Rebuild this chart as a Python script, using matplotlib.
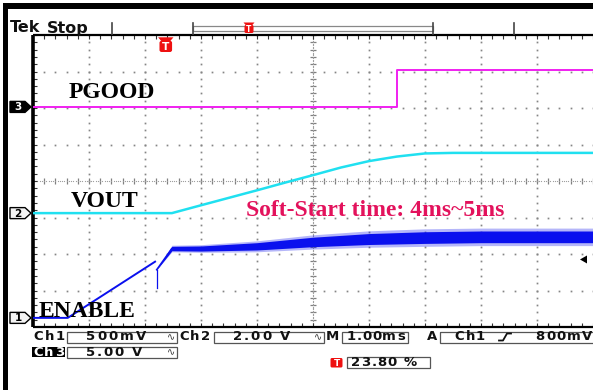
import numpy as np
import matplotlib
matplotlib.use("Agg")
import matplotlib.pyplot as plt
from matplotlib.patches import Polygon, Rectangle, FancyBboxPatch

# ---------------- data ----------------
# time in ms, voltages in V
enable_t = [0.0, 0.62, 2.18]
enable_v = [0.0, 0.0, 0.77]
enable_dip_t = [2.21, 2.21]
enable_dip_v = [0.66, 0.41]
enable_t2 = [2.21, 2.48, 3.0, 4.0, 5.0, 6.0, 7.0, 8.0, 9.0, 10.0]
enable_v2 = [0.66, 0.95, 0.95, 0.98, 1.04, 1.08, 1.10, 1.11, 1.11, 1.11]
enable_noise = [0.0, 0.03, 0.035, 0.05, 0.065, 0.075, 0.08, 0.08, 0.08, 0.08]

vout_t = [0.0, 2.48, 3.0, 3.5, 4.0, 4.5, 5.0, 5.5, 6.0, 6.5, 7.0, 7.5, 8.0, 10.0]
vout_v = [0.0, 0.0, 0.43, 0.84, 1.25, 1.67, 2.08, 2.50, 2.85, 3.10, 3.27, 3.30, 3.30, 3.30]

pgood_t = [0.0, 6.5, 6.5, 10.0]
pgood_v = [0.0, 0.0, 5.05, 5.05]

# channel settings: volts/div and ground position (divisions from bottom)
ch_scale = {1: 0.5, 2: 2.0, 3: 5.0}
ch_ground = {1: 0.25, 2: 3.12, 3: 6.03}
time_per_div = 1.0  # ms

status_ch1 = "500mV"
status_ch2 = "2.00 V"
status_ch3 = "5.00 V"
status_time = "1.00ms"
status_trig = "800mV"
status_pos = "23.80 %"
trig_pos_ms = 2.38

labels = ["PGOOD", "VOUT", "ENABLE"]
note = "Soft-Start time: 4ms~5ms"

# ---------------- figure ----------------
W, H = 593, 390
fig = plt.figure(figsize=(W / 100, H / 100), dpi=100)
fig.patch.set_facecolor("white")

L, T, R, B = 33, 35, 593, 327
ax = fig.add_axes([L / W, (H - B) / H, (R - L) / W, (B - T) / H])
ax.set_xlim(0, 10)
ax.set_ylim(0, 8)
ax.axis("off")

def to_div(v, ch):
    return ch_ground[ch] + np.asarray(v) / ch_scale[ch]

def to_x(t):
    return np.asarray(t) / time_per_div

# graticule dots
yf = np.arange(0, 8.001, 0.2)
xf = np.arange(0, 10.001, 0.2)
gcol = "#858585"
for gx in range(1, 10):
    if gx == 5:
        continue
    ax.plot([gx] * len(yf), yf, ls="none", marker="s", ms=1.25, color=gcol, mew=0)
for gy in range(1, 8):
    if gy == 4:
        continue
    ax.plot(xf, [gy] * len(xf), ls="none", marker="s", ms=1.25, color=gcol, mew=0)
# center lines with ticks
ax.plot([5] * len(yf), yf, ls="none", marker="_", ms=4, mew=0.9, color="#808080")
ax.plot(xf, [4] * len(xf), ls="none", marker="|", ms=4, mew=0.9, color="#808080")
yff = np.arange(0, 8.001, 0.04)
xff = np.arange(0, 10.001, 0.04)
ax.plot([5] * len(yff), yff, ls="none", marker="s", ms=0.8, color="#a0a0a0", mew=0)
ax.plot(xff, [4] * len(xff), ls="none", marker="s", ms=0.8, color="#a0a0a0", mew=0)
# edge ticks
ax.vlines(xf, 8 - 0.1, 8, color="#333", lw=0.8)
ax.vlines(xf, 0, 0.1, color="#333", lw=0.8)
ax.hlines(yf, 0, 0.07, color="#333", lw=0.8)
# frame
ax.plot([0, 0], [0, 8], color="black", lw=2.6, clip_on=False, solid_capstyle="butt")
ax.plot([0, 10], [8, 8], color="black", lw=1.6, clip_on=False, solid_capstyle="butt")
ax.plot([0, 10], [0, 0], color="black", lw=1.6, clip_on=False, solid_capstyle="butt")

# traces
mag = "#F020F0"
cya = "#20E0F0"
blu = "#0A10EE"
ax.plot(to_x(pgood_t), to_div(pgood_v, 3), color=mag, lw=1.4, zorder=4)
ax.plot(to_x(vout_t), to_div(vout_v, 2), color=cya, lw=1.8, zorder=4)
ax.plot(to_x(enable_t), to_div(enable_v, 1), color=blu, lw=1.4, zorder=4)
ax.plot(to_x(enable_dip_t), to_div(enable_dip_v, 1), color=blu, lw=0.9, zorder=4)
ev2 = np.array(enable_v2)
en = np.array(enable_noise)
ax.fill_between(to_x(enable_t2), to_div(ev2 - 1.5 * en, 1), to_div(ev2 + 1.5 * en, 1),
                color=blu, alpha=0.3, lw=0, zorder=4)
ax.fill_between(to_x(enable_t2), to_div(ev2 - en, 1), to_div(ev2 + en, 1),
                color=blu, lw=0, zorder=4)
ax.plot(to_x(enable_t2), to_div(ev2, 1), color=blu, lw=1.2, zorder=4)

# ---------------- overlay in pixel coordinates ----------------
ov = fig.add_axes([0, 0, 1, 1], zorder=5)
ov.set_xlim(0, W)
ov.set_ylim(H, 0)
ov.axis("off")

def py(div):
    return B - div * (B - T) / 8.0

def px(ms):
    return L + ms / time_per_div * (R - L) / 10.0

# black L-shaped border
ov.add_patch(Rectangle((2.5, 3), W, 6, color="black", lw=0))
ov.add_patch(Rectangle((2.5, 3), 5.5, H, color="black", lw=0))

# Tek Stop
ov.text(10, 32.5, "Tek", fontsize=11.5, fontweight="bold", family="DejaVu Sans", va="baseline", color="#111")
ov.text(47, 32.5, "Stop", fontsize=11.5, family="DejaVu Sans", va="baseline", color="#111", fontweight="semibold")

# record bar
for xx in (112, 193, 433, 514):
    ov.plot([xx, xx], [23, 34], color="#444", lw=1.2)
ov.add_patch(Rectangle((193, 26), 240, 4.5, facecolor="white", edgecolor="#888", lw=0.9))

def trig_marker(cx, cy, s):
    ov.add_patch(Polygon([(cx - s * 0.55, cy - s * 0.55), (cx + s * 0.55, cy - s * 0.55),
                          (cx + s * 0.25, cy - s * 0.2), (cx - s * 0.25, cy - s * 0.2)],
                         closed=True, color="#EE1111", lw=0))
    ov.add_patch(FancyBboxPatch((cx - s * 0.45, cy - s * 0.3), s * 0.9, s * 0.8,
                                boxstyle="round,pad=0,rounding_size=%g" % (s * 0.15),
                                color="#EE1111", lw=0))
    ov.text(cx, cy + s * 0.12, "T", color="white", fontsize=s * 0.55, fontweight="bold",
            ha="center", va="center", family="DejaVu Sans")

trig_marker(249, 28, 10)
trig_marker(px(trig_pos_ms) - 0.5, 45, 14)

# channel markers
def ch_marker(ch, filled):
    c = py(ch_ground[ch])
    pts = [(10, c - 5.5), (25, c - 5.5), (31, c), (25, c + 5.5), (10, c + 5.5)]
    ov.add_patch(Polygon(pts, closed=True, facecolor="black" if filled else "#f4f4f4",
                         edgecolor="black", lw=1.0))
    ov.text(18, c + 0.5, str(ch), color="white" if filled else "black", fontsize=7.5,
            fontweight="bold", ha="center", va="center", family="DejaVu Sans")

ch_marker(3, True)
ch_marker(2, False)
ch_marker(1, False)

# trigger level arrow
tl = py(ch_ground[1] + 0.8 / ch_scale[1])
ov.add_patch(Polygon([(580, tl), (587, tl - 4), (587, tl + 4)], closed=True, color="black", lw=0))

# labels
sfont = dict(family="Liberation Serif", fontweight="bold", fontsize=17, va="baseline")
ov.text(69, 98, labels[0], color="black", **sfont)
ov.text(71, 207, labels[1], color="black", **sfont)
ov.text(39, 317, labels[2], color="black", **sfont)
ov.text(246, 216, note, color="#E3125C", **sfont)

# status area: characters spread over a span, Tek-style wide lettering
cw = {"m": 1.45, ".": 0.6, " ": 0.6, "V": 1.1, "C": 1.1, "1": 0.9, "%": 1.2, "M": 1.2}

def chars(s, x0, x1, y, color="#111", size=9.5):
    ws = [cw.get(c, 1.0) for c in s]
    tot = sum(ws)
    acc = 0.0
    for c, w in zip(s, ws):
        xc = x0 + (acc + w / 2) / tot * (x1 - x0)
        acc += w
        if c != " ":
            ov.text(xc, y, c, ha="center", va="center", color=color,
                    fontsize=size, fontweight="bold", family="DejaVu Sans")

def box(x0, x1, y0, y1):
    ov.add_patch(Rectangle((x0, y0), x1 - x0, y1 - y0, facecolor="none", edgecolor="#555", lw=0.9))

def bw(x, y):
    ov.text(x, y, "∿", fontsize=7, ha="center", va="center", color="#333", family="DejaVu Sans")

r1, r2, r3 = 337, 352, 362.5
chars("Ch1", 32, 65, r1)
box(67, 177, 331.5, 343)
chars(status_ch1, 85, 147, r1)
bw(171, r1)
chars("Ch2", 178, 211, r1)
box(214, 324, 331.5, 343)
chars(status_ch2, 232, 291, r1)
bw(318, r1)
chars("M", 325, 340, r1)
box(342, 408, 331.5, 343)
chars(status_time, 347, 406, r1)
chars("A", 427, 438, r1)
box(440, 600, 331.5, 343)
chars("Ch1", 453, 485, r1)
ov.plot([499, 503, 507, 511], [340.5, 340.5, 333.5, 333.5], color="#111", lw=1.3)
chars(status_trig, 535, 593, r1)

ov.add_patch(Rectangle((32, 347), 33, 10, color="black", lw=0))
chars("Ch3", 32, 65, r2, color="white")
box(67, 177, 346.5, 357.5)
chars(status_ch3, 85, 143, r2)
bw(171, r2)

ov.add_patch(FancyBboxPatch((330.5, 358), 12, 9.5, boxstyle="round,pad=0,rounding_size=1.5",
                            color="#EE1111", lw=0))
ov.text(336.5, 363, "T", color="white", fontsize=6.5, fontweight="bold", ha="center",
        va="center", family="DejaVu Sans")
box(347, 430, 357, 368)
chars(status_pos, 350, 416, r3)

fig.savefig("out.png", dpi=100, facecolor="white")
